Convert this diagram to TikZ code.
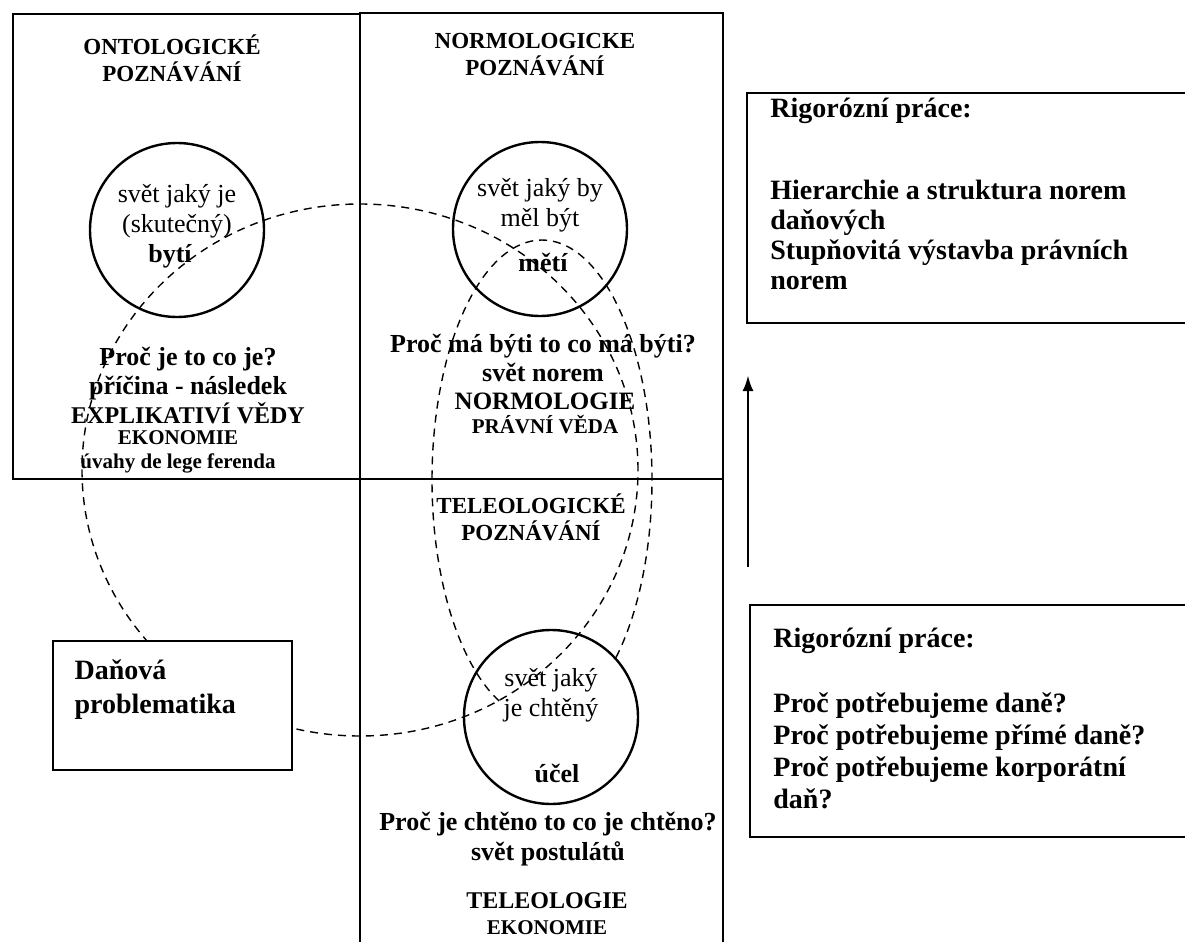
\documentclass[tikz,border=0pt]{standalone}
\usepackage{fontspec}
\setmainfont{Liberation Serif}
\usetikzlibrary{arrows.meta, positioning}

\begin{document}
\begin{tikzpicture}[
    x=0.5pt, y=-0.5pt,
    >=Latex,
    panel/.style={draw, line width=1pt},
    world/.style={circle, draw, line width=1.2pt, minimum size=87pt, inner sep=0pt},
    worldtext/.style={align=center, inner sep=0pt, font=\fontsize{13}{15}\selectfont},
    heading/.style={align=center, inner sep=0pt, font=\bfseries\fontsize{11.5}{13.5}\selectfont},
    question/.style={align=center, inner sep=0pt, font=\bfseries\fontsize{13}{14.5}\selectfont},
    science/.style={align=center, inner sep=0pt, font=\bfseries\fontsize{10.5}{12}\selectfont},
    thesis/.style={draw, line width=0.8pt, fill=white, inner sep=0pt},
    thesistext/.style={align=left, inner sep=0pt, font=\bfseries\fontsize{14}{15}\selectfont},
    realm/.style={draw, line width=0.7pt, dash pattern=on 4pt off 3pt}
]

% page frame (image is 1185 x 942)
\useasboundingbox (0,0) rectangle (1185,942);
\clip (0,0) rectangle (1185,942);

% -------------------------------------------------------------------------
% Panels of the three kinds of knowing
% -------------------------------------------------------------------------
\draw[panel] (13,14) rectangle (360,479);
\draw[panel] (360,13) rectangle (723,479);
\draw[panel] (360,479) rectangle (723,960);

% Dashed spheres (drawn first, the tax box covers them)
\draw[realm] (360,470) ellipse [x radius=139pt, y radius=133pt];
% tall one stops inside the teleological world
\draw[realm] ([shift={(-47.7:55pt and 120pt)}]542,480) arc [start angle=-47.7, end angle=248.6, x radius=55pt, y radius=120pt];

% Worlds
\node[world] (ontw) at (177,230) {};
\node[world] (normw) at (540,229) {};
\node[world] (telw) at (551,717) {};

% -------------------------------------------------------------------------
% Ontological column (x = 13 .. 360)
% -------------------------------------------------------------------------
\node[heading] (onthead) at (172,58) {ONTOLOGICKÉ\\POZNÁVÁNÍ};
\node[worldtext] (ontis) at (177,211) {svět jaký je\\(skutečný)};
\node[worldtext, font=\bfseries\fontsize{13}{15}\selectfont] (ontbe) at (170,256) {bytí};
\node[question] (ontq) at (188,386) {Proč je to co je?\\příčina - následek\\{\fontsize{12}{14}\selectfont EXPLIKATIVÍ VĚDY}};
\node[science] (ontsci) at (178,452) {EKONOMIE\\úvahy de lege ferenda};

% -------------------------------------------------------------------------
% Normological panel (top middle)
% -------------------------------------------------------------------------
\node[heading] (normhead) at (535,55) {NORMOLOGICKE\\POZNÁVÁNÍ};
\node[worldtext] (normis) at (540,205) {svět jaký by\\měl být};
\node[worldtext, font=\bfseries\fontsize{13}{15}\selectfont] (normbe) at (543,262) {mětí};
\node[question] (normq) at (543,358) {Proč má býti to co má býti?\\svět norem};
\node[science] (normsci) at (545,413) {{\fontsize{12.5}{13.5}\selectfont NORMOLOGIE}\\PRÁVNÍ VĚDA};

% -------------------------------------------------------------------------
% Teleological panel (bottom middle)
% -------------------------------------------------------------------------
\node[heading] (telhead) at (531,517) {TELEOLOGICKÉ\\POZNÁVÁNÍ};
\node[worldtext] (telis) at (551,695) {svět jaký\\je chtěný};
\node[worldtext, font=\bfseries\fontsize{13}{15}\selectfont] (telbe) at (557,773) {účel};
\node[question, font=\bfseries\fontsize{13}{15}\selectfont] (telq) at (548,839) {Proč je chtěno to co je chtěno?\\svět postulátů};
\node[science, font=\bfseries\fontsize{10.5}{13}\selectfont] (telsci) at (547,914) {{\fontsize{12}{13}\selectfont TELEOLOGIE}\\EKONOMIE};

% -------------------------------------------------------------------------
% Tax problem box
% -------------------------------------------------------------------------
\node[thesis, minimum width=119.5pt, minimum height=64.5pt] (tax) at (172.5,705.5) {};
\node[thesistext, anchor=north west, font=\bfseries\fontsize{14}{17}\selectfont] (taxlabel) at ([xshift=11pt, yshift=-9.5pt]tax.north west) {Daňová\\problematika};

% -------------------------------------------------------------------------
% Theses on the right
% -------------------------------------------------------------------------
\node[thesis, minimum width=221.5pt, minimum height=115pt] (rigup) at (968.5,208) {};
\node[thesistext, anchor=west] (rigupt) at (770,111) {Rigorózní práce:};
\node[thesistext, anchor=north west] (rigupb) at (770,180) {Hierarchie a struktura norem\\daňových\\Stupňovitá výstavba právních\\norem};

\node[thesis, minimum width=220pt, minimum height=116pt] (rigdn) at (970,721) {};
\node[thesistext, anchor=west] (rigdnt) at (773,641) {Rigorózní práce:};
\node[thesistext, anchor=north west, font=\bfseries\fontsize{14}{16}\selectfont] (rigdnb) at (773,692) {Proč potřebujeme daně?\\Proč potřebujeme přímé daně?\\Proč potřebujeme korporátní\\daň?};

% rising arrow between the theses
\coordinate (riseA) at (748,567);
\coordinate (riseB) at (748,375);
\draw[-{Latex[length=8pt,width=5.5pt]}, line width=1.4pt] (riseA) -- (riseB);

\end{tikzpicture}
\end{document}
